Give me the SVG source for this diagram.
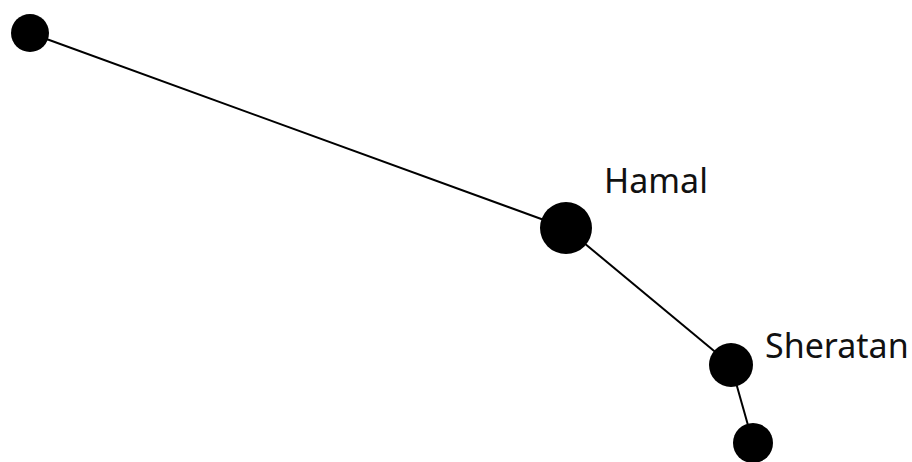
<svg xmlns="http://www.w3.org/2000/svg" width="912" height="462" viewBox="0 0 912 462">
<style>
.edge{stroke:#000;stroke-width:2;fill:none}
.star{fill:#000}
.lbl{font-family:"Noto Sans","Open Sans",sans-serif;font-size:34px;fill:#111}
</style>
<rect width="912" height="462" fill="#fff"/>
<g id="connectors">
<line class="edge" x1="30" y1="33" x2="566" y2="228"/>
<line class="edge" x1="566" y1="228" x2="731" y2="365"/>
<line class="edge" x1="731" y1="365" x2="753" y2="443"/>
</g>
<g id="star1"><circle class="star" cx="30" cy="33" r="19"/></g>
<g id="hamal"><circle class="star" cx="566" cy="228" r="26"/><text class="lbl" x="604" y="193">Hamal</text></g>
<g id="sheratan"><circle class="star" cx="731" cy="365" r="22"/><text class="lbl" x="765" y="358">Sheratan</text></g>
<g id="star4"><circle class="star" cx="753" cy="443" r="20"/></g>
</svg>
